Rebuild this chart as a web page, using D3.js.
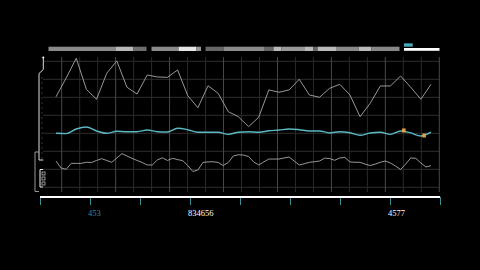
<!DOCTYPE html>
<html>
<head>
<meta charset="utf-8">
<script src="https://cdn.jsdelivr.net/npm/d3@7"></script>
<style>
  html, body { margin: 0; padding: 0; background: #000; }
  svg { display: block; }
</style>
</head>
<body>
<script>
// upper series, one value per step
let upperValues = [2.03, 3.07, 4.17, 2.44, 1.89, 3.33, 4.02, 2.56, 2.18, 3.24,
    3.13, 3.11, 3.52, 2.09, 1.42, 2.64, 2.22, 1.2, 0.92, 0.37,
    0.89, 2.41, 2.28, 2.41, 3.0, 2.13, 2.0, 2.5, 2.72, 2.13,
    0.92, 1.67, 2.63, 2.63, 3.18, 2.56, 1.89, 2.72]

// middle (cyan) series
let middleValues = [0, -0.02, 0.24, 0.35, 0.13, 0, 0.11, 0.09, 0.09, 0.18,
    0.09, 0.07, 0.28, 0.2, 0.06, 0.06, 0.06, -0.06, 0.06, 0.09,
    0.06, 0.14, 0.18, 0.24, 0.2, 0.13, 0.13, 0.02, 0.09, 0.03,
    -0.11, 0.02, 0.06, -0.06, 0.13, 0.02, -0.15, 0.06]

// lower series, sampled at half steps
let lowerValues = [-1.54, -1.93, -2.0, -1.67, -1.67, -1.67, -1.61, -1.62, -1.51, -1.41,
    -1.51, -1.61, -1.37, -1.13, -1.26, -1.39, -1.51, -1.62, -1.76, -1.76,
    -1.48, -1.36, -1.51, -1.39, -1.46, -1.52, -1.79, -2.12, -2.04, -1.62,
    -1.59, -1.58, -1.62, -1.79, -1.62, -1.26, -1.19, -1.21, -1.29, -1.59,
    -1.76, -1.59, -1.43, -1.43, -1.43, -1.37, -1.32, -1.54, -1.76, -1.69,
    -1.61, -1.58, -1.54, -1.38, -1.4, -1.5, -1.37, -1.34, -1.59, -1.61,
    -1.61, -1.71, -1.79, -1.71, -1.61, -1.54, -1.65, -1.82, -2.01, -1.71,
    -1.37, -1.39, -1.65, -1.87, -1.8]

// highlighted steps on the middle series
let markedSteps = [34, 36]

// overview strip segments, in axis units
let stripStart = [0.17, 1.52, 1.87, 2.23, 2.77, 3.13, 3.31, 3.67, 4.48, 4.67, 4.83, 5.3, 5.47, 5.55, 5.92, 6.37, 6.63]
let stripEnd   = [1.52, 1.87, 2.13, 2.77, 3.13, 3.22, 3.67, 4.48, 4.67, 4.83, 5.3, 5.47, 5.55, 5.92, 6.37, 6.63, 7.19]
let stripShade = [0.54, 0.72, 0.43, 0.54, 0.9, 0.6, 0.4, 0.55, 0.4, 0.73, 0.6, 0.73, 0.4, 0.73, 0.54, 0.73, 0.53]

// axis ticks and labels
let axisTicks = [0, 1, 2, 3, 4, 5, 6, 7, 8]
let labelTicks = [1, 3, 7]
let labelTexts = ["453", "834656", "4577"]

let svgWidth = 480
let svgHeight = 270

let plot = { left: 43, right: 439.5, top: 57, bottom: 192 }

let svg = d3.select("body")
    .append("svg")
    .attr("width", svgWidth)
    .attr("height", svgHeight)
    .style("background", "#000")

let xStep = d3.scaleLinear().domain([0, upperValues.length - 1]).range([56, 431])
let yScale = d3.scaleLinear().domain([-4, 4]).range([205.3, 61.3])
let xAxisScale = d3.scaleLinear().domain([0, 8]).range([40, 440])
let gridX = d3.scaleLinear().domain([0, 21]).range([61.7, 439.3])
let shade = d3.scaleLinear().domain([0, 1]).range(["#000", "#fff"])

// grid
let grid = svg.append("g")
grid.selectAll("line.h")
    .data(d3.range(-3, 5))
    .enter().append("line")
    .attr("x1", plot.left).attr("x2", plot.right)
    .attr("y1", d => yScale(d)).attr("y2", d => yScale(d))
    .attr("stroke", "#2e2e2e")
    .attr("stroke-width", 1)

grid.selectAll("line.v")
    .data(d3.range(0, 22))
    .enter().append("line")
    .attr("x1", d => gridX(d)).attr("x2", d => gridX(d))
    .attr("y1", plot.top).attr("y2", plot.bottom)
    .attr("stroke", d => d % 3 == 0 ? "#484848" : "#2a2a2a")
    .attr("stroke-width", 1)

// lines
let line = d3.line()
    .x((d, i) => xStep(i))
    .y(d => yScale(d))

svg.append("path")
    .datum(upperValues)
    .attr("d", line)
    .attr("fill", "none")
    .attr("stroke", "#a8a8a8")
    .attr("stroke-width", 0.9)

svg.append("path")
    .datum(lowerValues)
    .attr("d", d3.line().x((d, i) => xStep(i / 2)).y(d => yScale(d)))
    .attr("fill", "none")
    .attr("stroke", "#a8a8a8")
    .attr("stroke-width", 0.9)

svg.append("path")
    .datum(middleValues)
    .attr("d", line.curve(d3.curveMonotoneX))
    .attr("fill", "none")
    .attr("stroke", "#5ab8c2")
    .attr("stroke-width", 1.4)

svg.selectAll("rect.mark")
    .data(markedSteps)
    .enter().append("rect")
    .attr("x", d => xStep(d) + 1.5)
    .attr("y", d => yScale(middleValues[d]) - 2.5)
    .attr("width", 3.5)
    .attr("height", 4)
    .attr("fill", "#e3a046")

// overview strip
svg.selectAll("rect.strip")
    .data(stripShade)
    .enter().append("rect")
    .attr("x", (d, i) => xAxisScale(stripStart[i]))
    .attr("y", 46.7)
    .attr("width", (d, i) => xAxisScale(stripEnd[i]) - xAxisScale(stripStart[i]))
    .attr("height", 4.3)
    .attr("fill", d => shade(d))

// legend
svg.append("rect")
    .attr("x", 404).attr("y", 43.3)
    .attr("width", 8.7).attr("height", 3.4)
    .attr("fill", "#4aa9b6")
svg.append("rect")
    .attr("x", 404).attr("y", 48)
    .attr("width", 35.5).attr("height", 2.8)
    .attr("fill", "#fff")

// bottom axis
let xAxis = d3.axisBottom(xAxisScale)
    .tickValues(axisTicks)
    .tickSize(8)
    .tickFormat("")

let axisG = svg.append("g")
    .attr("transform", "translate(0,197)")
    .call(xAxis)
axisG.select(".domain").remove()
axisG.selectAll(".tick line").attr("stroke", "#3f9096")
axisG.append("line")
    .attr("x1", 40).attr("x2", 440)
    .attr("y1", 0).attr("y2", 0)
    .attr("stroke", "#fff")
    .attr("stroke-width", 2)

svg.selectAll("text.lbl")
    .data(labelTexts)
    .enter().append("text")
    .attr("x", (d, i) => xAxisScale(labelTicks[i]) - 2)
    .attr("y", 216)
    .attr("font-family", "Liberation Serif, serif")
    .attr("font-size", 8.5)
    .attr("fill", (d, i) => i == 0 ? "#3a8a90" : "#fff")
    .text(d => d)

// left range handle
let side = svg.append("g")
side.append("path")
    .attr("d", "M43.3,57.5 V69.5 L39,73.5 V160 H43.3")
    .attr("fill", "none")
    .attr("stroke", "#ddd")
    .attr("stroke-width", 1)
side.append("circle").attr("cx", 43.3).attr("cy", 57.5).attr("r", 1).attr("fill", "#fff")

let sideScale = d3.scaleLinear().domain([0, 1]).range([78, 158])
side.selectAll("line.tk")
    .data(d3.range(0, 1.001, 1 / 16))
    .enter().append("line")
    .attr("x1", 41.5).attr("x2", 42.5)
    .attr("y1", d => sideScale(d)).attr("y2", d => sideScale(d))
    .attr("stroke", "#666")

side.append("path")
    .attr("d", "M39,152 H35 V191.5 H39")
    .attr("fill", "none")
    .attr("stroke", "#999")
side.append("path")
    .attr("d", "M43,169.5 H40 V187 H43")
    .attr("fill", "none")
    .attr("stroke", "#eee")
side.selectAll("rect.sq")
    .data([0, 1, 2])
    .enter().append("rect")
    .attr("x", 42)
    .attr("y", d => 172 + d * 5)
    .attr("width", 3)
    .attr("height", 3)
    .attr("fill", "none")
    .attr("stroke", "#bbb")
    .attr("stroke-width", 0.8)
</script>
</body>
</html>
